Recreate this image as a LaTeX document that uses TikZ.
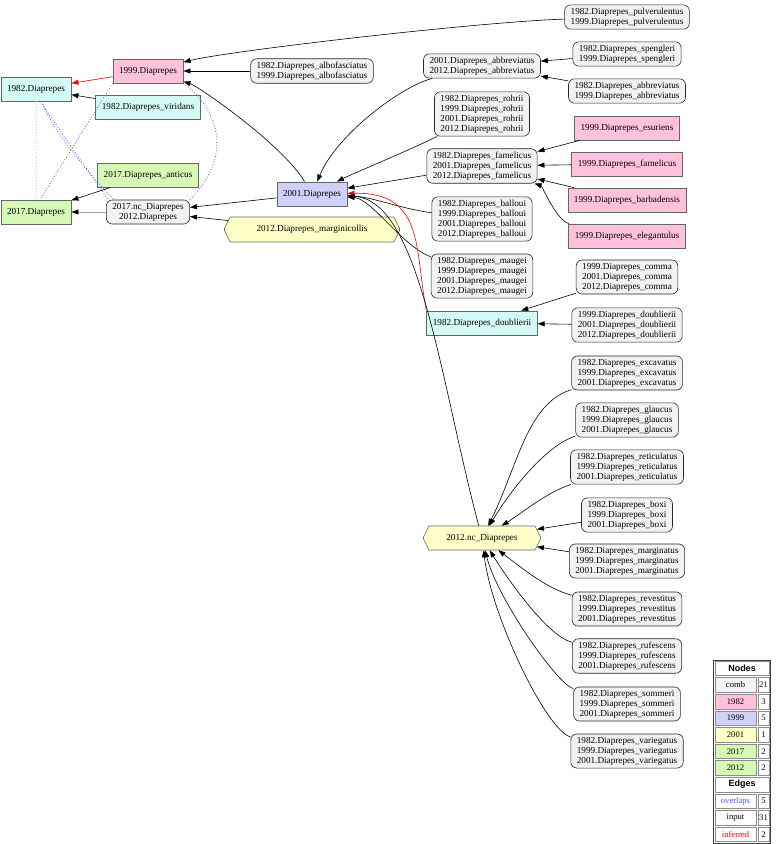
\documentclass[tikz,border=0pt]{standalone}
\usepackage{fontspec}
\setmainfont{Liberation Serif}
\setsansfont{Liberation Sans}
\usepackage{tikz}
\usetikzlibrary{arrows.meta, shapes.misc}

\definecolor{cyan82}{RGB}{212,250,245}
\definecolor{pink99}{RGB}{255,193,220}
\definecolor{lav01}{RGB}{208,208,250}
\definecolor{yel12}{RGB}{255,255,200}
\definecolor{green17}{RGB}{214,250,182}
\definecolor{combgrey}{RGB}{240,242,244}
\definecolor{ovblue}{RGB}{70,90,255}

\tikzset{
  lbl/.style={font=\fontsize{9.2}{10}\selectfont, align=center},
  box/.style={lbl, rectangle, draw=black!60, line width=0.9pt, minimum height=24pt, inner xsep=6pt},
  comb/.style={lbl, rectangle, rounded corners=6pt, draw=black!85, line width=0.6pt, fill=combgrey, inner xsep=6pt, inner ysep=3pt},
  oct/.style={lbl, chamfered rectangle, chamfered rectangle ysep=7pt, chamfered rectangle angle=26.57, draw=black!60, line width=0.6pt, fill=yel12, inner sep=0pt},
  input/.style={-{Triangle[length=7pt,width=5pt]}, line width=0.6pt},
  inferred/.style={input, red},
  overlap/.style={dotted, ovblue, line width=0.8pt},
  cell/.style={lbl, font=\fontsize{8.6}{10}\selectfont, draw=black!45, line width=0.5pt, minimum height=14.6pt, inner sep=0pt},
  head/.style={cell, font=\sffamily\bfseries\fontsize{9}{10}\selectfont, minimum width=54pt},
}

\begin{document}
\begin{tikzpicture}[x=1pt, y=-1pt]
    \useasboundingbox (0,0) rectangle (780,844);

    % left part
    \node[box, fill=pink99] (D1999) at (148,71) {1999.Diaprepes};
    \node[box, fill=cyan82] (D1982) at (36,89) {1982.Diaprepes};
    \node[box, fill=cyan82] (viridans) at (148,107) {1982.Diaprepes\_viridans};
    \node[comb] (albo) at (312,71) {1982.Diaprepes\_albofasciatus\\1999.Diaprepes\_albofasciatus};
    \node[box, fill=green17] (anticus) at (148,175) {2017.Diaprepes\_anticus};
    \node[box, fill=green17] (D2017) at (36,212) {2017.Diaprepes};
    \node[comb] (nc2017) at (148,212) {2017.nc\_Diaprepes\\2012.Diaprepes};
    \node[box, fill=lav01] (D2001) at (312,194) {2001.Diaprepes};
    \node[oct, minimum width=175pt, minimum height=25pt] (margcol) at (312,229.5) {2012.Diaprepes\_marginicollis};

    % middle column
    \node[comb] (abbr) at (482,66) {2001.Diaprepes\_abbreviatus\\2012.Diaprepes\_abbreviatus};
    \node[comb] (rohrii) at (482,114) {1982.Diaprepes\_rohrii\\1999.Diaprepes\_rohrii\\2001.Diaprepes\_rohrii\\2012.Diaprepes\_rohrii};
    \node[comb] (famel) at (482,166) {1982.Diaprepes\_famelicus\\2001.Diaprepes\_famelicus\\2012.Diaprepes\_famelicus};
    \node[comb] (balloui) at (482,219) {1982.Diaprepes\_balloui\\1999.Diaprepes\_balloui\\2001.Diaprepes\_balloui\\2012.Diaprepes\_balloui};
    \node[comb] (maugei) at (482,276) {1982.Diaprepes\_maugei\\1999.Diaprepes\_maugei\\2001.Diaprepes\_maugei\\2012.Diaprepes\_maugei};
    \node[box, fill=cyan82] (doub) at (482,323) {1982.Diaprepes\_doublierii};
    \node[oct, minimum width=117pt, minimum height=24pt] (nc2012) at (482,538) {2012.nc\_Diaprepes};

    % right column
    \node[comb] (pulv) at (627,17) {1982.Diaprepes\_pulverulentus\\1999.Diaprepes\_pulverulentus};
    \node[comb] (speng) at (627,54) {1982.Diaprepes\_spengleri\\1999.Diaprepes\_spengleri};
    \node[comb] (abbr2) at (627,91) {1982.Diaprepes\_abbreviatus\\1999.Diaprepes\_abbreviatus};
    \node[box, fill=pink99] (esur) at (627,128) {1999.Diaprepes\_esuriens};
    \node[box, fill=pink99] (famel2) at (627,164) {1999.Diaprepes\_famelicus};
    \node[box, fill=pink99] (barb) at (627,200) {1999.Diaprepes\_barbadensis};
    \node[box, fill=pink99] (eleg) at (627,236) {1999.Diaprepes\_elegantulus};
    \node[comb] (comma) at (627,277) {1999.Diaprepes\_comma\\2001.Diaprepes\_comma\\2012.Diaprepes\_comma};
    \node[comb] (doub2) at (627,325) {1999.Diaprepes\_doublierii\\2001.Diaprepes\_doublierii\\2012.Diaprepes\_doublierii};
    \node[comb] (excav) at (627,373) {1982.Diaprepes\_excavatus\\1999.Diaprepes\_excavatus\\2001.Diaprepes\_excavatus};
    \node[comb] (glauc) at (627,420) {1982.Diaprepes\_glaucus\\1999.Diaprepes\_glaucus\\2001.Diaprepes\_glaucus};
    \node[comb] (retic) at (627,467) {1982.Diaprepes\_reticulatus\\1999.Diaprepes\_reticulatus\\2001.Diaprepes\_reticulatus};
    \node[comb] (boxi) at (627,515) {1982.Diaprepes\_boxi\\1999.Diaprepes\_boxi\\2001.Diaprepes\_boxi};
    \node[comb] (margin) at (627,561) {1982.Diaprepes\_marginatus\\1999.Diaprepes\_marginatus\\2001.Diaprepes\_marginatus};
    \node[comb] (revest) at (627,609) {1982.Diaprepes\_revestitus\\1999.Diaprepes\_revestitus\\2001.Diaprepes\_revestitus};
    \node[comb] (rufes) at (627,656) {1982.Diaprepes\_rufescens\\1999.Diaprepes\_rufescens\\2001.Diaprepes\_rufescens};
    \node[comb] (sommeri) at (627,704) {1982.Diaprepes\_sommeri\\1999.Diaprepes\_sommeri\\2001.Diaprepes\_sommeri};
    \node[comb] (varieg) at (627,751) {1982.Diaprepes\_variegatus\\1999.Diaprepes\_variegatus\\2001.Diaprepes\_variegatus};

    % overlaps
    \draw[overlap, ovblue!30] (D1982) -- (D2017);
    \draw[overlap] ([xshift=4pt]D1982.south) -- ([xshift=2pt]nc2017.north west);
    \draw[overlap] ([xshift=6pt]D1982.south) .. controls +(10,30) and +(-20,-20) .. ([xshift=8pt]nc2017.north west);
    \draw[overlap] (D1999.south west) -- ([xshift=4pt]D2017.north);
    \draw[overlap] (D1999.south east) .. controls +(40,30) and +(40,-40) .. (nc2017.north east);

    % input edges
    \draw[input] (pulv) .. controls +(-150,5) and +(80,-20) .. (D1999);
    \draw[input] (albo) -- (D1999);
    \draw[inferred] (D1999) -- (D1982);
    \draw[input] (viridans) -- (D1982);
    \draw[input] (anticus) -- (D2017);
    \draw[input, black!35, -{Triangle[length=7pt,width=5pt,color=black]}] (nc2017) -- (D2017);
    \draw[input] (D2001) -- (nc2017);
    \draw[input] (margcol) -- (nc2017);
    \draw[input] (D2001) .. controls +(-30,-50) and +(50,15) .. (D1999);
    \draw[input] (abbr) .. controls +(-80,20) and +(25,-60) .. (D2001);
    \draw[input] (rohrii) .. controls +(-70,35) and +(40,-20) .. (D2001);
    \draw[input] (famel) -- (D2001);
    \draw[input] (balloui) .. controls +(-80,-10) and +(60,3) .. (D2001);
    \draw[input] (maugei) .. controls +(-80,-30) and +(60,5) .. (D2001);
    \draw[inferred] (doub.north west) .. controls +(-12,-61) and +(113,-2) .. (D2001);
    \draw[input] (nc2012) .. controls +(-42,-158) and +(108,6) .. (D2001);
    \draw[input] (speng) -- (abbr);
    \draw[input] (abbr2) -- (abbr);
    \draw[input] (esur) -- (famel);
    \draw[input] (famel2) -- (famel);
    \draw[input] (barb) -- (famel);
    \draw[input] (eleg) .. controls +(-70,-15) and +(60,20) .. (famel);
    \draw[input] (comma) -- (doub);
    \draw[input] (doub2) -- (doub);
    \draw[input] (excav) .. controls +(-100,30) and +(35,-70) .. (nc2012);
    \draw[input] (glauc) .. controls +(-80,25) and +(30,-50) .. (nc2012);
    \draw[input] (retic) .. controls +(-80,25) and +(40,-25) .. (nc2012);
    \draw[input] (boxi) -- (nc2012);
    \draw[input] (margin) -- (nc2012);
    \draw[input] (revest) .. controls +(-80,-20) and +(40,30) .. (nc2012);
    \draw[input] (rufes) .. controls +(-80,-20) and +(25,40) .. (nc2012);
    \draw[input] (sommeri) .. controls +(-70,-20) and +(15,60) .. (nc2012);
    \draw[input] (varieg) .. controls +(-80,-20) and +(10,80) .. (nc2012);

    % legend
    \node[draw=black!75, line width=0.8pt, minimum width=57pt, minimum height=183.5pt, inner sep=0pt] (legend) at (741.5,751.75) {};
    \node[head] (hnodes) at (742,668.3) {Nodes};
    \node[cell, fill=combgrey, minimum width=41pt] (lcomb) at (735.5,684.9) {comb};
    \node[cell, minimum width=11pt] (ncomb) at (763.5,684.9) {21};
    \node[cell, fill=pink99, minimum width=41pt] (l1982) at (735.5,701.5) {1982};
    \node[cell, minimum width=11pt] (n1982) at (763.5,701.5) {3};
    \node[cell, fill=lav01, minimum width=41pt] (l1999) at (735.5,718.1) {1999};
    \node[cell, minimum width=11pt] (n1999) at (763.5,718.1) {5};
    \node[cell, fill=yel12, minimum width=41pt] (l2001) at (735.5,734.7) {2001};
    \node[cell, minimum width=11pt] (n2001) at (763.5,734.7) {1};
    \node[cell, fill=green17, minimum width=41pt] (l2017) at (735.5,751.3) {2017};
    \node[cell, minimum width=11pt] (n2017) at (763.5,751.3) {2};
    \node[cell, fill=green17, minimum width=41pt] (l2012) at (735.5,767.9) {2012};
    \node[cell, minimum width=11pt] (n2012) at (763.5,767.9) {2};
    \node[head] (hedges) at (742,784.5) {Edges};
    \node[cell, text=ovblue, minimum width=41pt] (lover) at (735.5,801.1) {overlaps};
    \node[cell, minimum width=11pt] (nover) at (763.5,801.1) {5};
    \node[cell, minimum width=41pt] (linput) at (735.5,817.7) {input};
    \node[cell, minimum width=11pt] (ninput) at (763.5,817.7) {31};
    \node[cell, text=red, minimum width=41pt] (linf) at (735.5,834.3) {inferred};
    \node[cell, minimum width=11pt] (ninf) at (763.5,834.3) {2};
\end{tikzpicture}
\end{document}
